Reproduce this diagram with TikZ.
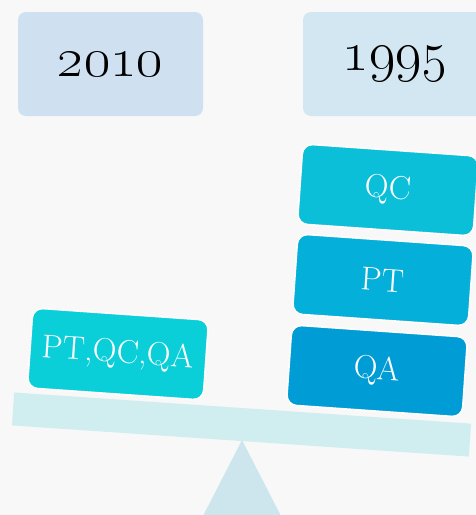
\RequirePackage{fix-cm}
\documentclass[tikz,border=0pt]{standalone}
\usepackage{tikz}
\definecolor{bgcol}{HTML}{F8F8F8}
\definecolor{yearA}{HTML}{CFE0F1}
\definecolor{yearB}{HTML}{D2E7F1}
\definecolor{beamcol}{HTML}{D0EEF0}
\definecolor{footcol}{HTML}{CDE6EE}
\definecolor{blkall}{HTML}{0ACFD9}
\definecolor{blkqc}{HTML}{0BBFD9}
\definecolor{blkpt}{HTML}{04AFD9}
\definecolor{blkqa}{HTML}{009CD5}
\begin{document}
\begin{tikzpicture}[x=1pt, y=-1pt,
    yearbox/.style={fill=#1, rounded corners=8pt, minimum width=185pt, minimum height=104pt,
        font=\fontsize{56}{60}\selectfont},
    block/.style={fill=#1, draw=white, line width=1.5pt, rounded corners=10pt,
        minimum width=176pt, minimum height=80pt, rotate=-4, text=white,
        font=\fontsize{33}{36}\selectfont}]
    \useasboundingbox (0,0) rectangle (476,515);
    \fill[bgcol] (0,0) rectangle (476,515);

    % Years
    \node[yearbox=yearA] (y2010) at (110.5, 64) {\oldstylenums{2010}};
    \node[yearbox=yearB] (y1995) at (395.5, 64) {\oldstylenums{1995}};

    % Fulcrum and beam
    \fill[footcol] (242, 440) -- (280.5, 515) -- (203.5, 515) -- cycle;
    \node[fill=beamcol, minimum width=458pt, minimum height=33pt, rotate=-3.9] (beam) at (241.5, 424.5) {};

    % Blocks
    \node[block=blkall] (all) at (118, 354) {PT,QC,QA};
    \node[block=blkqa] (qa) at (377, 371) {QA};
    \node[block=blkpt] (pt) at (383, 280) {PT};
    \node[block=blkqc] (qc) at (388, 190) {QC};
\end{tikzpicture}
\end{document}
